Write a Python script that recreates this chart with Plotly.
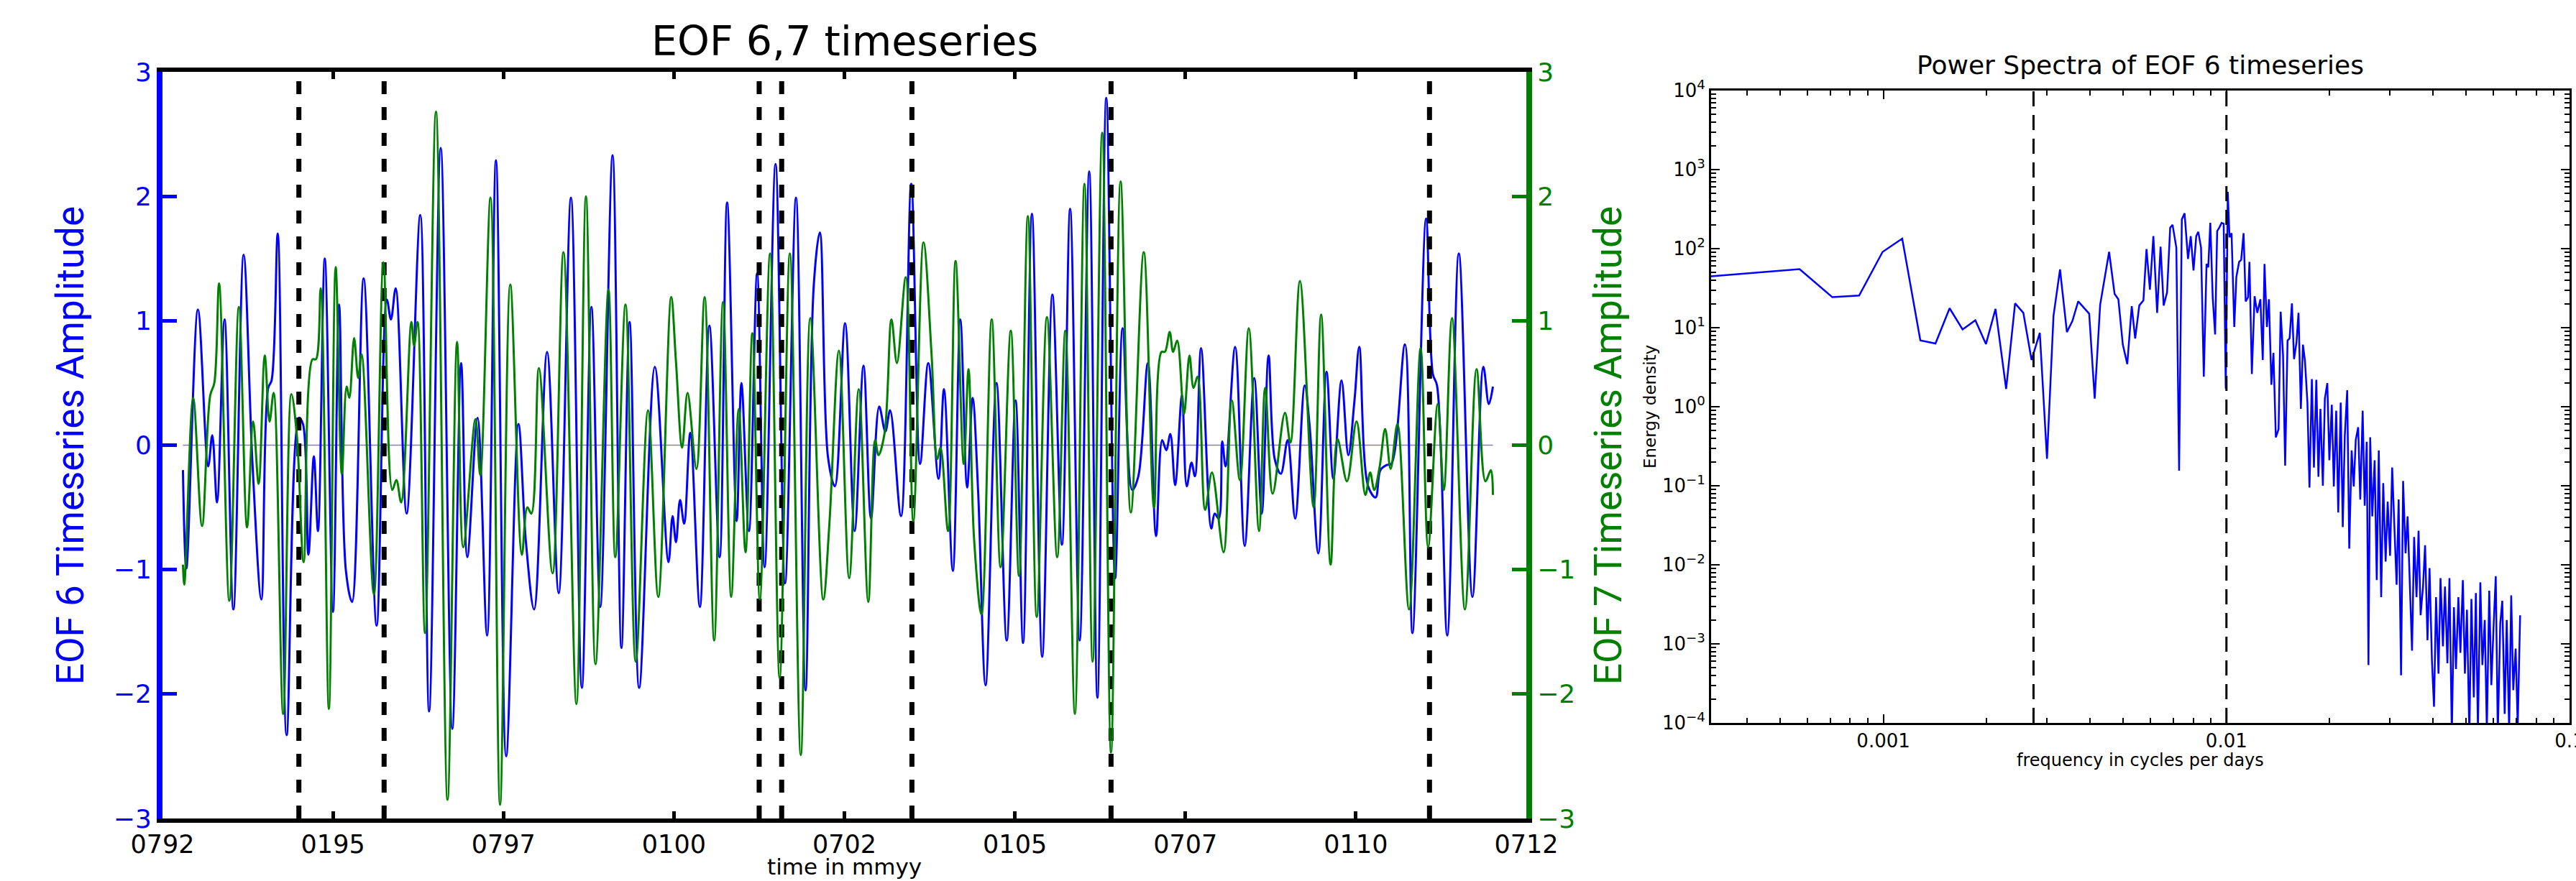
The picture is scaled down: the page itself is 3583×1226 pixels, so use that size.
import plotly.graph_objects as go

# ---------------- EOF 6 / EOF 7 time series (decimal year, amplitude) ----------------
blue_t = [1992.80, 1992.85, 1993.02, 1993.17, 1993.23, 1993.30, 1993.41, 1993.54, 1993.69, 1993.82,
          1993.95, 1994.05, 1994.10, 1994.19, 1994.32, 1994.50, 1994.56, 1994.64, 1994.72, 1994.78,
          1994.88, 1995.00, 1995.09, 1995.19, 1995.28, 1995.45, 1995.64, 1995.79, 1995.85, 1995.92,
          1996.08, 1996.28, 1996.41, 1996.58, 1996.75, 1996.88, 1996.97, 1997.12, 1997.26, 1997.39,
          1997.54, 1997.72, 1997.83, 1997.95, 1998.14, 1998.31, 1998.49, 1998.65, 1998.79, 1998.92,
          1999.10, 1999.23, 1999.35, 1999.49, 1999.72, 1999.92, 1999.98, 2000.03, 2000.09, 2000.15,
          2000.24, 2000.38, 2000.52, 2000.67, 2000.78, 2000.92, 2000.99, 2001.10, 2001.22, 2001.33,
          2001.49, 2001.63, 2001.79, 2001.93, 2002.05, 2002.14, 2002.26, 2002.36, 2002.51, 2002.65,
          2002.78, 2002.89, 2003.01, 2003.10, 2003.17, 2003.33, 2003.48, 2003.61, 2003.73, 2003.88,
          2003.96, 2004.09, 2004.20, 2004.30, 2004.38, 2004.46, 2004.57, 2004.73, 2004.88, 2005.01,
          2005.12, 2005.25, 2005.40, 2005.55, 2005.69, 2005.81, 2005.95, 2006.09, 2006.21, 2006.34,
          2006.47, 2006.58, 2006.72, 2006.81, 2006.95, 2007.07, 2007.16, 2007.22, 2007.28, 2007.35,
          2007.45, 2007.52, 2007.59, 2007.64, 2007.73, 2007.88, 2007.93, 2007.99, 2008.04, 2008.09,
          2008.23, 2008.37, 2008.51, 2008.62, 2008.72, 2008.81, 2008.90, 2009.00, 2009.11, 2009.25,
          2009.32, 2009.45, 2009.57, 2009.67, 2009.79, 2009.89, 2009.98, 2010.05, 2010.18, 2010.29,
          2010.36, 2010.45, 2010.52, 2010.72, 2010.83, 2011.03, 2011.13, 2011.19, 2011.34, 2011.51,
          2011.71, 2011.87, 2011.95, 2012.01]
blue_v = [-0.20, -0.99, 1.09, -0.17, 0.08, -0.46, 1.01, -1.32, 1.53, -0.15,
          -1.24, 0.46, 0.52, 1.70, -2.33, 0.22, 0.17, -0.88, -0.09, -0.69,
          1.50, -1.34, 1.13, -1.01, -1.26, 1.34, -1.45, 1.17, 1.01, 1.26,
          -0.55, 1.85, -2.14, 2.39, -2.28, 0.66, -0.90, 0.22, -1.53, 2.29,
          -2.50, 0.17, -0.78, -1.32, 0.75, -1.19, 1.99, -1.95, 1.11, -1.30,
          2.33, -1.63, 0.99, -1.95, 0.63, -0.94, -0.57, -0.78, -0.44, -0.63,
          0.10, -1.30, 0.96, -0.90, 1.95, -0.61, 0.50, -0.69, 1.38, -0.98,
          2.26, -1.11, 1.99, -1.97, 1.28, 1.71, -0.10, -0.33, 0.98, -0.69,
          0.64, -0.59, 0.31, 0.11, 0.28, -0.57, 2.10, -0.15, 0.66, -0.27,
          0.45, -1.01, 1.01, -0.34, 0.38, -0.36, -1.93, 0.50, -1.57, 0.36,
          -1.59, 1.86, -1.70, 1.21, -0.80, 1.90, -1.57, 2.20, -2.03, 2.79,
          -1.07, 0.94, -0.36, -0.25, 0.66, -0.73, 0.04, -0.04, 0.09, -0.32,
          0.40, -0.33, -0.14, -0.25, 0.78, -0.67, -0.55, -0.59, 0.03, -0.17,
          0.79, -0.81, 0.54, -0.55, 0.72, -0.11, -0.23, 0.04, -0.59, 0.48,
          0.17, -0.87, 0.59, -0.27, 0.52, -0.08, 0.36, 0.79, -0.33, -0.42,
          -0.20, -0.16, -0.15, 0.81, -1.51, 1.82, 0.57, 0.48, -1.53, 1.54,
          -1.22, 0.63, 0.33, 0.47]

green_t = [1992.80, 1992.82, 1992.95, 1993.08, 1993.20, 1993.26, 1993.33, 1993.48, 1993.62, 1993.74,
           1993.83, 1993.91, 1994.00, 1994.07, 1994.13, 1994.27, 1994.39, 1994.47, 1994.57, 1994.70,
           1994.75, 1994.82, 1994.94, 1995.04, 1995.13, 1995.20, 1995.24, 1995.31, 1995.37, 1995.42,
           1995.60, 1995.74, 1995.87, 1995.93, 1996.00, 1996.15, 1996.19, 1996.24, 1996.35, 1996.51,
           1996.68, 1996.82, 1996.91, 1997.09, 1997.16, 1997.31, 1997.45, 1997.60, 1997.77, 1997.85,
           1997.91, 1998.02, 1998.22, 1998.38, 1998.57, 1998.71, 1998.85, 1999.04, 1999.14, 1999.29,
           1999.44, 1999.62, 1999.77, 1999.96, 2000.03, 2000.12, 2000.20, 2000.33, 2000.45, 2000.59,
           2000.72, 2000.84, 2000.95, 2001.05, 2001.15, 2001.26, 2001.41, 2001.55, 2001.70, 2001.86,
           2002.00, 2002.19, 2002.28, 2002.42, 2002.57, 2002.71, 2002.85, 2002.95, 2003.00, 2003.09,
           2003.19, 2003.27, 2003.40, 2003.51, 2003.66, 2003.78, 2003.86, 2003.91, 2004.02, 2004.13,
           2004.25, 2004.32, 2004.40, 2004.51, 2004.66, 2004.79, 2004.94, 2005.06, 2005.19, 2005.32,
           2005.47, 2005.62, 2005.74, 2005.88, 2006.02, 2006.14, 2006.28, 2006.41, 2006.55, 2006.70,
           2006.89, 2007.04, 2007.15, 2007.20, 2007.27, 2007.32, 2007.38, 2007.48, 2007.56, 2007.62,
           2007.68, 2007.79, 2007.89, 2008.06, 2008.18, 2008.30, 2008.43, 2008.58, 2008.67, 2008.78,
           2008.96, 2009.04, 2009.18, 2009.38, 2009.49, 2009.63, 2009.73, 2009.87, 2010.01, 2010.14,
           2010.21, 2010.27, 2010.35, 2010.43, 2010.51, 2010.61, 2010.78, 2010.95, 2011.06, 2011.20,
           2011.29, 2011.41, 2011.60, 2011.77, 2011.90, 2011.98, 2012.01]
green_v = [-0.96, -1.12, 0.38, -0.65, 0.40, 0.50, 1.30, -1.25, 1.11, -0.66,
           0.19, -0.31, 0.72, 0.19, 0.42, -2.16, 0.41, 0.08, -0.94, 0.69,
           0.69, 1.26, -2.12, 1.43, -0.23, 0.47, 0.38, 0.86, 0.54, 0.73,
           -1.20, 1.47, -0.36, -0.28, -0.46, 0.99, 0.80, 0.99, -1.51, 2.68,
           -2.85, 0.83, -0.82, 0.21, -0.24, 1.99, -2.89, 1.29, -0.88, -0.50,
           -0.55, 0.62, -1.03, 1.55, -2.08, 2.00, -1.76, 1.25, -0.90, 1.13,
           -1.74, 0.28, -1.22, 1.19, 0.67, -0.02, 0.42, -0.19, 1.19, -1.57,
           1.15, -1.22, 0.29, -0.86, 0.90, -1.24, 1.54, -1.87, 1.54, -2.49,
           1.02, -1.24, -0.63, 0.76, -1.07, 0.45, -1.26, 0.04, -0.08, 0.10,
           1.01, 0.66, 1.35, -0.61, 1.63, 0.71, -0.11, -0.02, -0.69, 1.48,
           -0.15, 0.61, -0.74, -1.36, 1.01, -0.98, 0.92, -1.05, 1.84, -1.38,
           1.03, -0.90, 0.92, -2.16, 2.10, -1.74, 2.51, -2.47, 2.12, -0.54,
           1.55, -0.50, 0.75, 0.75, 0.91, 0.75, 0.84, 0.25, 0.72, 0.46,
           0.55, -0.52, -0.22, -0.86, 0.36, -0.28, 0.94, -0.69, 0.46, -0.39,
           0.26, 0.02, 1.32, -0.50, 1.05, -0.96, 0.05, -0.29, 0.19, -0.40,
           -0.22, -0.36, -0.17, 0.13, -0.19, 0.17, -1.32, 0.78, -0.82, 0.33,
           -0.36, 1.02, -1.32, 0.61, -0.29, -0.20, -0.40]

# marked events (decimal year)
event_years = [1994.50, 1995.75, 2001.25, 2001.58, 2003.49, 2006.41, 2011.08]

# time axis ticks every 30 months, labelled mmyy
time_ticks = [1992.5, 1995.0, 1997.5, 2000.0, 2002.5, 2005.0, 2007.5, 2010.0, 2012.5]
time_labels = ["0792", "0195", "0797", "0100", "0702", "0105", "0707", "0110", "0712"]
amp_ticks = [-3, -2, -1, 0, 1, 2, 3]

# ---------------- power spectrum of EOF 6 (cycles per day, energy density) ----------------
spec_freq = [3.0e-4, 5.7e-4, 7.1e-4, 8.5e-4, 9.95e-4, 1.135e-3, 1.282e-3, 1.419e-3, 1.560e-3, 1.702e-3,
             1.854e-3, 1.991e-3, 2.123e-3, 2.280e-3, 2.421e-3, 2.559e-3, 2.704e-3, 2.858e-3, 2.999e-3, 3.133e-3,
             3.273e-3, 3.428e-3, 3.556e-3, 3.698e-3, 3.981e-3, 4.130e-3, 4.285e-3, 4.550e-3, 4.721e-3, 4.842e-3,
             4.989e-3, 5.140e-3, 5.297e-3, 5.420e-3, 5.572e-3, 5.728e-3, 5.848e-3, 5.984e-3, 6.124e-3, 6.281e-3,
             6.427e-3, 6.561e-3, 6.714e-3, 6.855e-3, 6.966e-3, 7.145e-3, 7.278e-3, 7.413e-3, 7.551e-3, 7.727e-3,
             7.870e-3, 8.017e-3, 8.166e-3, 8.279e-3, 8.433e-3, 8.590e-3, 8.750e-3, 8.851e-3, 8.974e-3, 9.120e-3,
             9.268e-3, 9.397e-3, 9.528e-3, 9.683e-3, 9.817e-3, 9.954e-3, 1.009e-2, 1.021e-2, 1.035e-2, 1.054e-2,
             1.069e-2, 1.089e-2, 1.104e-2, 1.122e-2, 1.138e-2, 1.156e-2, 1.167e-2, 1.186e-2, 1.208e-2, 1.230e-2,
             1.256e-2, 1.276e-2, 1.291e-2, 1.312e-2, 1.330e-2, 1.352e-2, 1.371e-2, 1.393e-2, 1.419e-2, 1.439e-2,
             1.462e-2, 1.483e-2, 1.507e-2, 1.528e-2, 1.552e-2, 1.574e-2, 1.600e-2, 1.622e-2, 1.648e-2, 1.671e-2,
             1.694e-2, 1.722e-2, 1.746e-2, 1.774e-2, 1.799e-2, 1.828e-2, 1.854e-2, 1.879e-2, 1.910e-2, 1.936e-2,
             1.968e-2, 1.995e-2, 2.028e-2, 2.056e-2, 2.089e-2, 2.118e-2, 2.153e-2, 2.183e-2, 2.213e-2, 2.249e-2,
             2.280e-2, 2.317e-2, 2.350e-2, 2.382e-2, 2.421e-2, 2.455e-2, 2.495e-2, 2.529e-2, 2.564e-2, 2.594e-2,
             2.624e-2, 2.661e-2, 2.704e-2, 2.742e-2, 2.780e-2, 2.825e-2, 2.864e-2, 2.911e-2, 2.951e-2, 2.999e-2,
             3.041e-2, 3.083e-2, 3.133e-2, 3.177e-2, 3.228e-2, 3.273e-2, 3.327e-2, 3.373e-2, 3.420e-2, 3.475e-2,
             3.524e-2, 3.581e-2, 3.631e-2, 3.681e-2, 3.741e-2, 3.793e-2, 3.855e-2, 3.908e-2, 3.972e-2, 4.027e-2,
             4.083e-2, 4.150e-2, 4.207e-2, 4.276e-2, 4.335e-2, 4.406e-2, 4.467e-2, 4.539e-2, 4.603e-2, 4.667e-2,
             4.742e-2, 4.808e-2, 4.887e-2, 4.955e-2, 5.023e-2, 5.105e-2, 5.176e-2, 5.260e-2, 5.333e-2, 5.408e-2,
             5.495e-2, 5.572e-2, 5.662e-2, 5.741e-2, 5.834e-2, 5.916e-2, 6.012e-2, 6.095e-2, 6.180e-2, 6.281e-2,
             6.368e-2, 6.471e-2, 6.561e-2, 6.668e-2, 6.761e-2, 6.855e-2, 6.966e-2, 7.063e-2, 7.178e-2]
spec_energy = [44, 55, 24.3, 25.5, 91, 134, 6.9, 6.3, 17.6, 9.5,
               12.4, 6.2, 17.3, 1.68, 20.3, 15.4, 3.9, 8.6, 0.22, 14.1,
               54.5, 8.8, 12.1, 21.5, 15, 1.27, 19.5, 91, 26.8, 22.9,
               6.1, 3.46, 18.7, 7.3, 19.1, 22.1, 99, 30.2, 144, 15.4,
               106, 19.1, 28, 184, 200, 103, 0.155, 234, 280, 74,
               144, 53, 144, 163, 103, 2.4, 64, 58, 212, 24.3,
               8.2, 167, 184, 212, 207, 1.7, 523, 139, 157, 10.2,
               44, 68, 72, 157, 21.5, 24.3, 68, 2.6, 25, 15.4,
               22.9, 3.9, 64, 10.2, 22.9, 1.9, 4.8, 0.41, 0.52, 15.9,
               4.5, 0.18, 6.9, 7.3, 20.3, 4.0, 6.5, 15.4, 0.94, 6.1,
               3.8, 1.13, 0.095, 2.24, 0.17, 2.19, 0.13, 0.94, 0.10, 1.27,
               1.99, 0.21, 1.06, 0.098, 0.89, 0.046, 1.13, 0.030, 0.43, 1.62,
               0.016, 0.28, 0.098, 0.38, 0.55, 0.067, 0.89, 0.056, 0.36, 0.00054,
               0.41, 0.041, 0.21, 0.0064, 0.28, 0.0039, 0.108, 0.011, 0.063, 0.013,
               0.17, 0.041, 0.0056, 0.067, 0.0004, 0.115, 0.014, 0.041, 0.0053, 0.00082,
               0.0225, 0.0039, 0.027, 0.0023, 0.0053, 0.0177, 0.00111, 0.0091, 0.00061, 0.00016,
               0.0039, 0.00042, 0.0068, 0.00093, 0.0053, 0.00057, 0.0068, 0.00007, 0.0029, 0.00048,
               0.0039, 0.00077, 0.0064, 0.00042, 0.0027, 0.00007, 0.0037, 0.00021, 0.0044, 0.00008,
               0.006, 0.00054, 0.002, 0.00008, 0.0047, 0.0003, 0.0018, 0.0072, 0.00007, 0.0018,
               0.0035, 0.00013, 0.002, 0.00008, 0.0041, 0.00026, 0.00087, 0.00009, 0.0023]

# reference frequencies: one year and 100 days
spec_marks = [1 / 365.0, 1 / 100.0]
freq_ticks = [0.001, 0.01, 0.1]
freq_labels = ["0.001", "0.01", "0.1"]
energy_ticks = [1e-4, 1e-3, 1e-2, 1e-1, 1e0, 1e1, 1e2, 1e3, 1e4]
energy_labels = ["10<sup>\u22124</sup>", "10<sup>\u22123</sup>", "10<sup>\u22122</sup>", "10<sup>\u22121</sup>",
                 "10<sup>0</sup>", "10<sup>1</sup>", "10<sup>2</sup>", "10<sup>3</sup>", "10<sup>4</sup>"]

BLUE = "#0000ff"
GREEN = "#008000"
WIDE = "DejaVu Sans, Verdana, sans-serif"
NARROW = "Liberation Sans Narrow, Roboto, Arial, sans-serif"

W, H = 3583, 1226
L_X0, L_X1, L_Y0, L_Y1 = 226, 2123, 100, 1139      # left panel, pixels
R_X0, R_X1, R_Y0, R_Y1 = 2380, 3574, 126, 1006     # right panel, pixels


def px(x):
    return x / W


def py(y):
    return 1 - y / H


fig = go.Figure()

# zero reference line over the record
fig.add_trace(go.Scatter(x=[blue_t[0], blue_t[-1]], y=[0, 0], mode="lines",
                         line=dict(color="#8a7fb0", width=1.5), xaxis="x", yaxis="y",
                         hoverinfo="skip", showlegend=False))
fig.add_trace(go.Scatter(x=blue_t, y=blue_v, mode="lines", name="EOF 6",
                         line=dict(color=BLUE, width=3, shape="spline", smoothing=1.0),
                         xaxis="x", yaxis="y", showlegend=False))
fig.add_trace(go.Scatter(x=green_t, y=green_v, mode="lines", name="EOF 7",
                         line=dict(color=GREEN, width=3, shape="spline", smoothing=1.0),
                         xaxis="x", yaxis="y2", showlegend=False))

ex, ey = [], []
for t in event_years:
    ex += [t, t, None]
    ey += [amp_ticks[0], amp_ticks[-1], None]
fig.add_trace(go.Scatter(x=ex, y=ey, mode="lines", line=dict(color="black", width=7, dash="18px,18px"),
                         xaxis="x", yaxis="y", hoverinfo="skip", showlegend=False))

# spectrum
fig.add_trace(go.Scatter(x=spec_freq, y=spec_energy, mode="lines",
                         line=dict(color=BLUE, width=2.5), xaxis="x2", yaxis="y3", showlegend=False))
sx, sy = [], []
for f in spec_marks:
    sx += [f, f, None]
    sy += [energy_ticks[0], energy_ticks[-1], None]
fig.add_trace(go.Scatter(x=sx, y=sy, mode="lines", line=dict(color="black", width=3, dash="21px,12px"),
                         xaxis="x2", yaxis="y3", hoverinfo="skip", showlegend=False))

fig.update_layout(
    width=W, height=H, margin=dict(l=0, r=0, t=0, b=0, autoexpand=False),
    paper_bgcolor="white", plot_bgcolor="white", showlegend=False,
    xaxis=dict(domain=[px(L_X0), px(L_X1)], range=[time_ticks[0], time_ticks[-1]], anchor="y",
               tickvals=time_ticks, ticktext=time_labels, ticks="inside", ticklen=10, tickwidth=5,
               tickcolor="black", showline=True, linecolor="black", linewidth=6, mirror="ticks",
               showgrid=False, zeroline=False, automargin=False, ticklabelstandoff=0,
               tickfont=dict(family=WIDE, size=35, color="black")),
    yaxis=dict(domain=[py(L_Y1), py(L_Y0)], range=[-3, 3], anchor="x", tickvals=amp_ticks,
               ticks="inside", ticklen=20, tickwidth=5, tickcolor=BLUE, showline=True,
               linecolor=BLUE, linewidth=8, showgrid=False, zeroline=False, automargin=False,
               tickfont=dict(family=WIDE, size=36, color=BLUE)),
    yaxis2=dict(overlaying="y", side="right", anchor="x", range=[-3, 3], tickvals=amp_ticks,
                ticks="inside", ticklen=20, tickwidth=5, tickcolor=GREEN, showline=True,
                linecolor=GREEN, linewidth=8, showgrid=False, zeroline=False, automargin=False,
                tickfont=dict(family=WIDE, size=36, color=GREEN)),
    xaxis2=dict(type="log", domain=[px(R_X0), px(R_X1)], range=[-3.502, -1.0], anchor="y3",
                tickvals=freq_ticks, ticktext=freq_labels, ticks="inside", ticklen=12, tickwidth=2,
                tickcolor="black", showline=True, linecolor="black", linewidth=3, mirror="ticks",
                showgrid=False, zeroline=False, automargin=False, ticklabeloverflow="allow",
                tickfont=dict(family=WIDE, size=26, color="black"),
                minor=dict(ticks="inside", ticklen=7, tickwidth=2, tickcolor="black", dtick="D1",
                           showgrid=False)),
    yaxis3=dict(type="log", domain=[py(R_Y1), py(R_Y0)], range=[-4, 4], anchor="x2",
                tickvals=energy_ticks, ticktext=energy_labels, ticks="inside", ticklen=12, tickwidth=2,
                tickcolor="black", showline=True, linecolor="black", linewidth=3, mirror="ticks",
                showgrid=False, zeroline=False, automargin=False,
                tickfont=dict(family=WIDE, size=26, color="black"),
                minor=dict(ticks="inside", ticklen=7, tickwidth=1.5, tickcolor="black", dtick="D1",
                           showgrid=False)),
)

annotations = [
    dict(text="EOF 6,7 timeseries", x=px((L_X0 + L_X1) / 2), y=py(57),
         font=dict(family=WIDE, size=57, color="black")),
    dict(text="time in mmyy", x=px((L_X0 + L_X1) / 2), y=py(1206),
         font=dict(family=WIDE, size=31, color="black")),
    dict(text="EOF 6 Timeseries Amplitude", x=px(98), y=py(620), textangle=-90,
         font=dict(family=NARROW, size=53, color=BLUE)),
    dict(text="EOF 7 Timeseries Amplitude", x=px(2237), y=py(620), textangle=-90,
         font=dict(family=NARROW, size=53, color=GREEN)),
    dict(text="Power Spectra of EOF 6 timeseries", x=px((R_X0 + R_X1) / 2), y=py(90),
         font=dict(family=WIDE, size=36, color="black")),
    dict(text="frequency in cycles per days", x=px((R_X0 + R_X1) / 2), y=py(1058),
         font=dict(family=WIDE, size=24, color="black")),
    dict(text="Energy density", x=px(2295), y=py(566), textangle=-90,
         font=dict(family=WIDE, size=23, color="black")),
]
for a in annotations:
    a.update(xref="paper", yref="paper", xanchor="center", yanchor="middle", showarrow=False)
fig.update_layout(annotations=annotations)

fig.write_html("out.html")
